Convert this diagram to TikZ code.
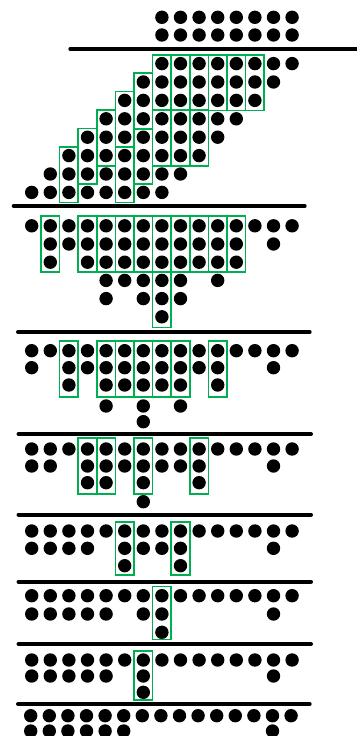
\documentclass[tikz,border=0pt]{standalone}
\definecolor{boxgreen}{RGB}{0,176,80}
\tikzset{
  dotmark/.style={fill=black},
  bar/.style={line width=4pt, line cap=round},
  adder/.style={draw=boxgreen, line width=1.6pt}
}
% a row of dots: #1 = y, #2 = list of columns
\newcommand{\drow}[2]{\foreach \cc in {#2}{\fill[dotmark] ({31.7+18.6*\cc},#1) circle (6.7pt);}}
% shifted row of dots (last section)
\newcommand{\drowsh}[2]{\foreach \cc in {#2}{\fill[dotmark] ({30.7+18.6*\cc},#1) circle (6.7pt);}}
% adder boxes: #1 = list of columns, #2 = top y, #3 = bottom y
\newcommand{\abox}[3]{\foreach \cc in {#1}{\draw[adder] ({31.7+18.6*\cc-9.3},#2) rectangle ({31.7+18.6*\cc+9.3},#3);}}
\begin{document}
\begin{tikzpicture}[x=1pt,y=-1pt]
\useasboundingbox (0,0) rectangle (356,736);

% ---- operands
\drow{17.3}{7,...,14}
\drow{35}{7,...,14}
\draw[bar] (70.3,49) -- (358,49);

% ---- partial product array
\foreach \r in {0,...,7}{
  \pgfmathtruncatemacro\lo{7-\r}
  \pgfmathtruncatemacro\hi{14-\r}
  \foreach \cc in {\lo,...,\hi}{
    \fill[dotmark] ({31.7+18.6*\cc},{63.6+18.4*\r}) circle (6.7pt);
  }
}
\abox{7,...,12}{54.7}{110.5}
\abox{6}{73.1}{128.9}
\abox{5}{91.5}{147.3}
\abox{4}{109.9}{165.7}
\abox{3}{128.3}{184.1}
\abox{2}{146.7}{202.5}
\abox{7,8,9}{109.9}{165.7}
\abox{6}{128.3}{184.1}
\abox{5}{146.7}{202.5}
\draw[bar] (13.7,206) -- (304.7,206);

% ---- stage 2
\drow{225.8}{0,...,14}
\drow{244}{1,2,3,4,5,6,7,8,9,10,11,13}
\drow{262.2}{1,3,4,5,6,7,8,9,10,11}
\drow{280.4}{4,5,6,7,8,10}
\drow{298.6}{4,6,7,8}
\drow{316.8}{7}
\abox{1}{216}{271.7}
\abox{3,...,11}{216}{271.7}
\abox{7}{271.7}{327.3}
\draw[bar] (18,332) -- (309.7,332);

% ---- stage 3
\drow{350.7}{0,...,14}
\drow{367.7}{0,2,3,4,5,6,7,8,9,10,13}
\drow{385}{2,4,5,6,7,8,10}
\drow{406}{4,6,8}
\drow{421.7}{6}
\abox{2}{341}{396.7}
\abox{4,...,8}{341}{396.7}
\abox{10}{341}{396.7}
\draw[bar] (18.5,434) -- (311,434);

% ---- stage 4
\drow{449}{0,...,14}
\drow{466}{0,1,3,4,5,6,7,8,9,13}
\drow{482.7}{3,4,6,9}
\drow{501.7}{6}
\abox{3,4}{437.7}{494}
\abox{6}{437.7}{494}
\abox{9}{437.7}{494}
\draw[bar] (18.5,514.5) -- (311,514.5);

% ---- stage 5
\drow{531}{0,...,14}
\drow{548.3}{0,1,2,3,5,6,7,8,13}
\drow{565.7}{5,8}
\abox{5}{521.7}{575}
\abox{8}{521.7}{575}
\draw[bar] (18.5,581.7) -- (311,581.7);

% ---- stage 6
\drow{595.7}{0,...,14}
\drow{614}{0,1,2,3,4,6,7,13}
\drow{632.3}{7}
\abox{7}{586.3}{639.3}
\draw[bar] (18.5,644) -- (311,644);

% ---- stage 7
\drow{660}{0,...,14}
\drow{676}{0,1,2,3,4,6,13}
\drow{692.3}{6}
\abox{6}{650.7}{700}
\draw[bar] (18,704) -- (309.7,704);

% ---- final
\drowsh{715.7}{0,...,14}
\drowsh{731}{0,1,2,3,4,5,13}
\end{tikzpicture}
\end{document}
